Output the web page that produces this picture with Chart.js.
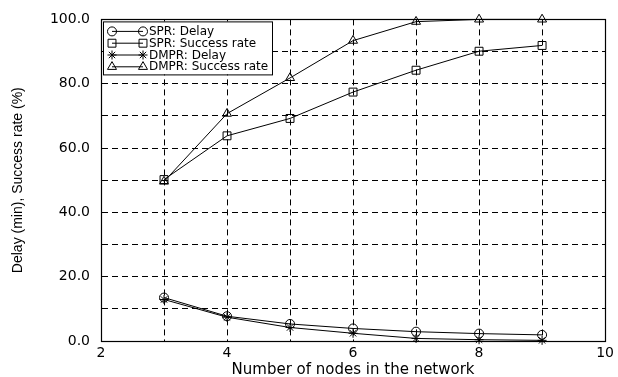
<!DOCTYPE html>
<html>
<head>
<meta charset="utf-8">
<script src="https://cdn.jsdelivr.net/npm/chart.js@4/dist/chart.umd.min.js"></script>
<style>
html,body{margin:0;padding:0;background:#fff;}
#wrap{width:618px;height:377px;}
</style>
</head>
<body>
<div id="wrap"><canvas id="c" width="618" height="377"></canvas></div>
<script>
const nodes = [3, 4, 5, 6, 7, 8, 9];
const sprDelay = [13.5, 7.7, 5.3, 3.9, 2.9, 2.3, 1.9];
const sprSuccess = [50.2, 63.8, 69.2, 77.4, 84.2, 90.1, 91.9];
const dmprDelay = [12.9, 7.4, 4.2, 2.4, 0.8, 0.4, 0.2];
const dmprSuccess = [49.6, 70.7, 81.8, 93.4, 99.3, 100.0, 100.0];
const seriesNames = ['SPR: Delay', 'SPR: Success rate', 'DMPR: Delay', 'DMPR: Success rate'];
const xTickLabels = [2, 4, 6, 8, 10];
const yTickLabels = [0, 20, 40, 60, 80, 100];

const styles = [
  {pointStyle: 'circle', radius: 4.5},
  {pointStyle: 'rect', radius: 5.6},
  {pointStyle: 'star', radius: 4.5},
  {pointStyle: 'triangle', radius: 5.2}
];
const values = [sprDelay, sprSuccess, dmprDelay, dmprSuccess];

function drawMarker(ctx, style, r, x, y) {
  ctx.save();
  ctx.strokeStyle = '#000';
  ctx.lineWidth = 1;
  ctx.beginPath();
  if (style === 'circle') {
    ctx.arc(x, y, r, 0, Math.PI * 2);
  } else if (style === 'rect') {
    const s = Math.SQRT1_2 * r;
    ctx.rect(x - s, y - s, 2 * s, 2 * s);
  } else if (style === 'star') {
    for (let k = 0; k < 4; k++) {
      const a = k * Math.PI / 4;
      ctx.moveTo(x + Math.cos(a) * r, y + Math.sin(a) * r);
      ctx.lineTo(x - Math.cos(a) * r, y - Math.sin(a) * r);
    }
  } else if (style === 'triangle') {
    ctx.moveTo(x, y - r);
    ctx.lineTo(x + Math.cos(Math.PI / 6) * r, y + Math.sin(Math.PI / 6) * r);
    ctx.lineTo(x - Math.cos(Math.PI / 6) * r, y + Math.sin(Math.PI / 6) * r);
    ctx.closePath();
  }
  ctx.stroke();
  ctx.restore();
}

const frameAndLegend = {
  id: 'frameAndLegend',
  afterDatasetsDraw(chart) {
    const ctx = chart.ctx;
    const a = chart.chartArea;
    ctx.save();
    ctx.strokeStyle = '#000';
    ctx.lineWidth = 1.2;
    ctx.setLineDash([]);
    ctx.strokeRect(Math.round(a.left) + 0.5, Math.round(a.top) + 0.5,
                   Math.round(a.right - a.left), Math.round(a.bottom - a.top));
    // legend
    const lx = a.left + 2, ly = a.top + 2, lw = 169, lh = 53;
    ctx.fillStyle = '#fff';
    ctx.fillRect(lx, ly, lw, lh);
    ctx.lineWidth = 1;
    ctx.strokeRect(lx + 0.5, ly + 0.5, lw, lh);
    ctx.font = '12px "DejaVu Sans"';
    ctx.fillStyle = '#000';
    ctx.textBaseline = 'middle';
    ctx.textAlign = 'left';
    for (let i = 0; i < seriesNames.length; i++) {
      const yy = ly + 10 + i * 11.8;
      const x1 = lx + 9, x2 = lx + 40;
      ctx.beginPath();
      ctx.moveTo(x1, yy);
      ctx.lineTo(x2, yy);
      ctx.stroke();
      drawMarker(ctx, styles[i].pointStyle, styles[i].radius, x1, yy);
      drawMarker(ctx, styles[i].pointStyle, styles[i].radius, x2, yy);
      ctx.fillText(seriesNames[i], lx + 46, yy + 0.5);
    }
    ctx.restore();
  }
};

const datasets = seriesNames.map((name, i) => ({
  label: name,
  data: nodes.map((n, j) => ({x: n, y: values[i][j]})),
  borderColor: '#000',
  borderWidth: 1,
  backgroundColor: 'rgba(0,0,0,0)',
  pointBackgroundColor: 'rgba(0,0,0,0)',
  pointBorderColor: '#000',
  pointBorderWidth: 1,
  pointStyle: styles[i].pointStyle,
  pointRadius: styles[i].radius,
  fill: false,
  tension: 0,
  clip: false
}));

new Chart(document.getElementById('c'), {
  type: 'line',
  data: {datasets},
  plugins: [frameAndLegend],
  options: {
    responsive: false,
    animation: false,
    events: [],
    layout: {padding: {left: 0, right: 11, top: 18, bottom: 0}},
    plugins: {legend: {display: false}, tooltip: {enabled: false}},
    scales: {
      x: {
        type: 'linear',
        min: 2, max: 10,
        afterFit(s) { s.height = 36; },
        ticks: {
          stepSize: 1, autoSkip: false, maxRotation: 0,
          padding: 4,
          color: '#000',
          font: {family: '"DejaVu Sans"', size: 14},
          callback: v => xTickLabels.includes(v) ? String(v) : ''
        },
        grid: {color: '#000', lineWidth: 1, drawTicks: false},
        border: {display: true, color: '#000', width: 1, dash: [6, 4]},
        title: {
          display: true, text: 'Number of nodes in the network',
          color: '#000', font: {family: '"DejaVu Sans"', size: 15},
          padding: {top: 0, bottom: -2}
        }
      },
      y: {
        type: 'linear',
        min: 0, max: 100,
        afterFit(s) { s.width = 101; },
        ticks: {
          stepSize: 10, autoSkip: false,
          padding: 11,
          color: '#000',
          font: {family: '"DejaVu Sans"', size: 14},
          callback: v => yTickLabels.includes(v) ? v.toFixed(1) : ''
        },
        grid: {color: '#000', lineWidth: 1, drawTicks: false},
        border: {display: true, color: '#000', width: 1, dash: [6, 4]},
        title: {
          display: true, text: 'Delay (min), Success rate (%)',
          color: '#000', font: {family: '"Liberation Sans"', size: 14},
          padding: {top: 10, bottom: 0}
        }
      }
    }
  }
});
</script>
</body>
</html>
